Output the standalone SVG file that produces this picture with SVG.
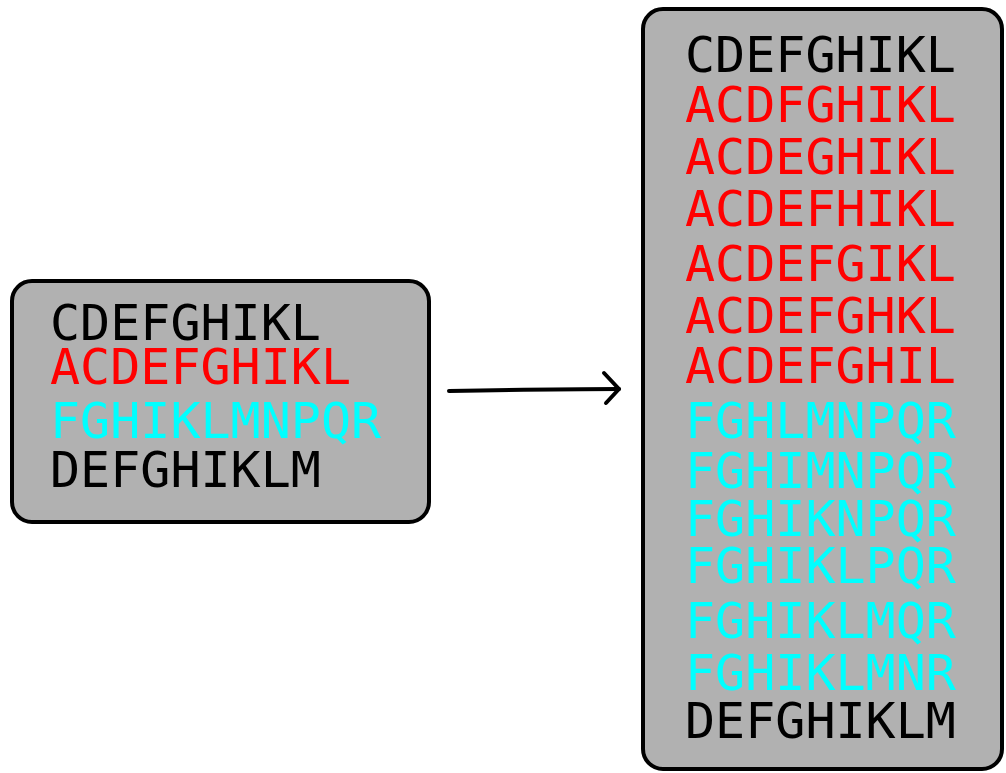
<svg xmlns="http://www.w3.org/2000/svg" width="1006" height="773" viewBox="0 0 1006 773">
  <style>
    .box { fill: #b1b1b1; stroke: #000; stroke-width: 4; stroke-linejoin: round; }
    .t { font-family: "DejaVu Sans Mono", "Liberation Mono", monospace; font-size: 50px; }
    .k { fill: #000; }
    .r { fill: #ff0000; }
    .c { fill: #00ffff; }
    .conn { fill: none; stroke: #000; stroke-width: 4; stroke-linecap: round; stroke-linejoin: round; }
  </style>
  <rect width="1006" height="773" fill="#ffffff"/>

  <!-- input set -->
  <g id="node-input">
    <rect class="box" x="12" y="281" width="417" height="241" rx="20" ry="20"/>
    <text class="t k" x="50" y="340">CDEFGHIKL</text>
    <text class="t r" x="50" y="384">ACDEFGHIKL</text>
    <text class="t c" x="50" y="438">FGHIKLMNPQR</text>
    <text class="t k" x="50" y="487">DEFGHIKLM</text>
  </g>

  <!-- expanded set -->
  <g id="node-output">
    <rect class="box" x="643" y="9" width="359" height="760" rx="20" ry="20"/>
    <text class="t k" x="685" y="72">CDEFGHIKL</text>
    <text class="t r" x="685" y="122">ACDFGHIKL</text>
    <text class="t r" x="685" y="174">ACDEGHIKL</text>
    <text class="t r" x="685" y="226">ACDEFHIKL</text>
    <text class="t r" x="685" y="281">ACDEFGIKL</text>
    <text class="t r" x="685" y="333">ACDEFGHKL</text>
    <text class="t r" x="685" y="383">ACDEFGHIL</text>
    <text class="t c" x="685" y="438">FGHLMNPQR</text>
    <text class="t c" x="685" y="488">FGHIMNPQR</text>
    <text class="t c" x="685" y="536">FGHIKNPQR</text>
    <text class="t c" x="685" y="583">FGHIKLPQR</text>
    <text class="t c" x="685" y="638">FGHIKLMQR</text>
    <text class="t c" x="685" y="690">FGHIKLMNR</text>
    <text class="t k" x="685" y="738">DEFGHIKLM</text>
  </g>

  <g id="connectors">
    <path class="conn" d="M449 391 C 500 390, 560 389, 619 389"/>
    <path class="conn" d="M604 373 L 619 389 L 606 403"/>
  </g>
</svg>
